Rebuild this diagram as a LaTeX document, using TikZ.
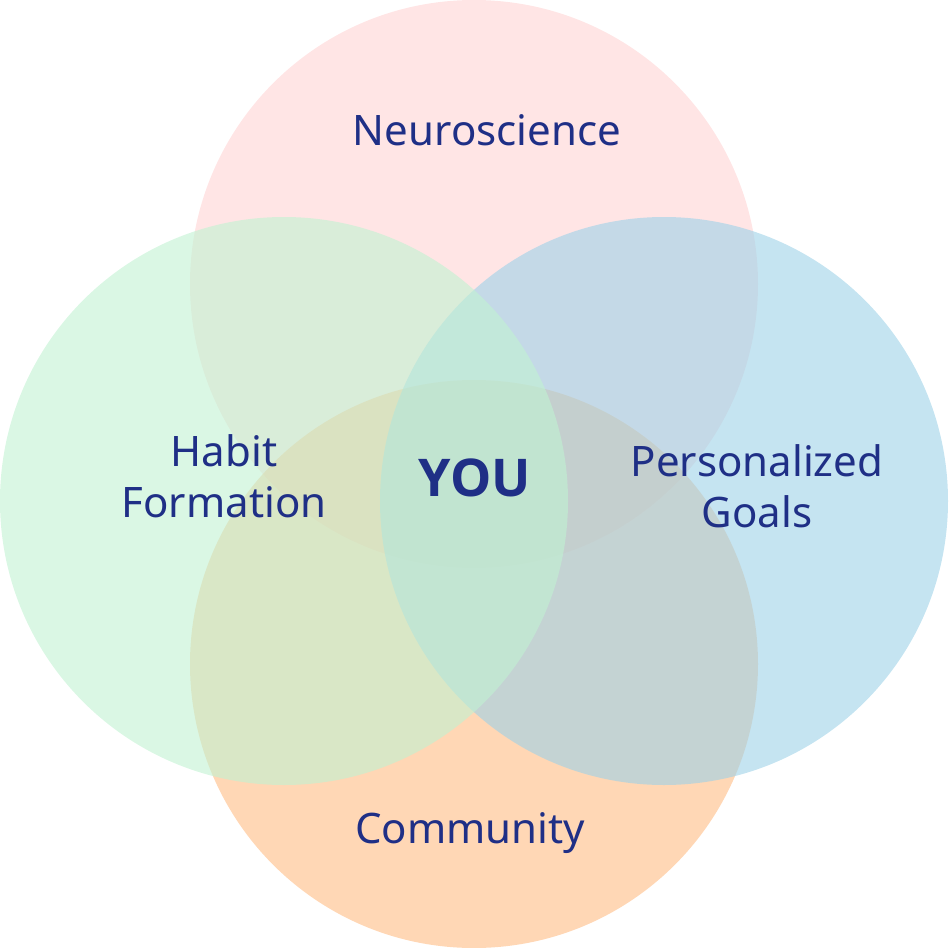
\documentclass[tikz,border=0pt]{standalone}
\usepackage{fontspec}
\setmainfont{Noto Sans}
\newfontfamily\youfont{Open Sans}
\usepackage{tikz}

\definecolor{ink}{RGB}{31,47,134}
\definecolor{neuroC}{RGB}{255,212,212}
\definecolor{habitC}{RGB}{193,242,210}
\definecolor{goalsC}{RGB}{158,210,232}
\definecolor{commC}{RGB}{255,188,132}

\tikzset{
  lbl/.style={text=ink, font=\fontsize{21}{25.5}\selectfont, align=center},
  blob/.style={fill opacity=0.6}
}

\begin{document}
\begin{tikzpicture}[x=0.5pt, y=-0.5pt]
  \useasboundingbox (0,0) rectangle (949,948);
  \fill[neuroC, blob] (474,284) circle (284);
  \fill[commC, blob] (474,664) circle (284);
  \fill[goalsC, blob] (664,501) circle (284);
  \fill[habitC, blob] (284,501) circle (284);
  \node[lbl] (neuro) at (487,130) {Neuroscience};
  \node[lbl] (habit) at (224,476) {Habit\\Formation};
  \node[lbl] (goals) at (757,486) {Personalized\\Goals};
  \node[lbl] (community) at (470,833) {Community};
  \node[lbl, font=\youfont\fontsize{26}{30}\selectfont\bfseries] (you) at (475,478) {YOU};
\end{tikzpicture}
\end{document}
